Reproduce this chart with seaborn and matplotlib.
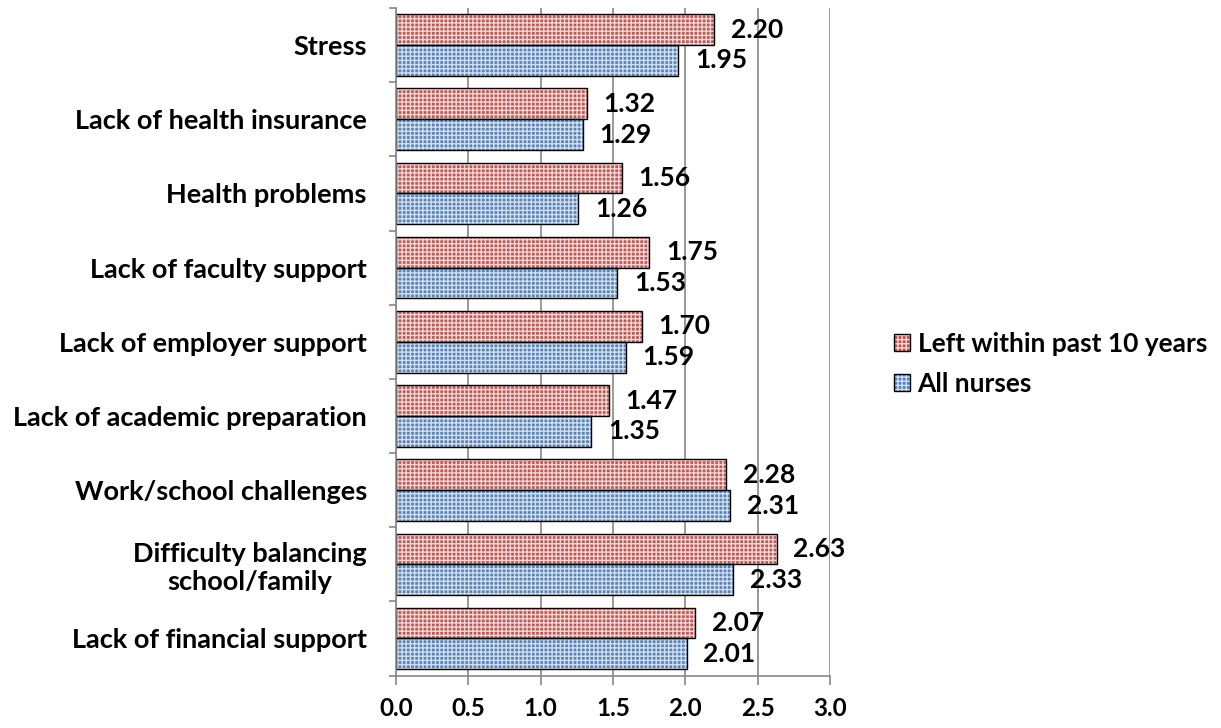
import matplotlib
matplotlib.use("Agg")
import matplotlib.pyplot as plt
import seaborn as sns
import pandas as pd
from matplotlib.patches import Patch
from matplotlib.legend_handler import HandlerTuple

categories = ["Stress", "Lack of health insurance", "Health problems",
              "Lack of faculty support", "Lack of employer support",
              "Lack of academic preparation", "Work/school challenges",
              "Difficulty balancing\nschool/family", "Lack of financial support"]
left_10 = [2.20, 1.32, 1.56, 1.75, 1.70, 1.47, 2.28, 2.63, 2.07]
all_nurses = [1.95, 1.29, 1.26, 1.53, 1.59, 1.35, 2.31, 2.33, 2.01]
series = ["Left within past 10 years", "All nurses"]
xticks = [0.0, 0.5, 1.0, 1.5, 2.0, 2.5, 3.0]

sns.set_style("white")
plt.rcParams["font.family"] = ["Lato", "DejaVu Sans"]
plt.rcParams["font.weight"] = "bold"
plt.rcParams["hatch.linewidth"] = 1.0
plt.rcParams["text.color"] = "black"
plt.rcParams["xtick.labelcolor"] = "black"
plt.rcParams["ytick.labelcolor"] = "black"

df = pd.DataFrame({
    "cat": categories * 2,
    "val": left_10 + all_nurses,
    "series": [series[0]] * len(categories) + [series[1]] * len(categories),
})

fig = plt.figure(figsize=(12.21, 7.28), dpi=100)
ax = fig.add_axes([0.3243, 0.072, 0.3555, 0.917])

red = "#C0504D"
blue = "#4F81BD"
red_light = "#F6D2D1"
blue_light = "#CFDFF3"
HATCH = "++++"
sns.barplot(data=df, y="cat", x="val", hue="series", hue_order=series,
            palette=[red, blue], orient="h", width=0.83, ax=ax,
            edgecolor="white", linewidth=0, hatch=HATCH, legend=False)
for c, lc in zip(ax.containers[:2], [red_light, blue_light]):
    for p in c:
        p.set_edgecolor(lc)
        p.set_linewidth(0)
sns.barplot(data=df, y="cat", x="val", hue="series", hue_order=series,
            palette=["black", "black"], orient="h", width=0.83, ax=ax,
            fill=False, linewidth=1.0, legend=False)

for c in ax.containers[:2]:
    ax.bar_label(c, fmt="%.2f", padding=12, fontsize=19, fontweight="bold",
                 color="black")

ax.set_xlim(0, 3.0)
ax.set_ylim(8.5, -0.5)
ax.set_xticks(xticks)
ax.set_xticklabels([f"{t:.1f}" for t in xticks], fontsize=17.5, fontweight="bold")
ax.tick_params(axis="x", length=6.5, width=1.2, color="#888888", pad=9,
               direction="out", bottom=True, labelcolor="black")
ax.set_yticks(range(len(categories)))
ax.set_yticklabels(categories, fontsize=19.5, fontweight="bold", multialignment="center")
ax.tick_params(axis="y", which="major", length=0, pad=21, labelcolor="black")
ax.set_yticks([i + 0.5 for i in range(-1, len(categories))], minor=True)
ax.tick_params(axis="y", which="minor", length=5, width=1.2, color="#888888", left=True)
ax.grid(axis="x", color="#888888", linewidth=1.2)
ax.set_axisbelow(True)
ax.set_xlabel("")
ax.set_ylabel("")
for s in ["top", "right"]:
    ax.spines[s].set_visible(False)
for s in ["left", "bottom"]:
    ax.spines[s].set_color("#888888")
    ax.spines[s].set_linewidth(1.2)

handles = [(Patch(facecolor=red, edgecolor=red_light, hatch=HATCH, linewidth=0),
            Patch(fill=False, edgecolor="black", linewidth=1.0)),
           (Patch(facecolor=blue, edgecolor=blue_light, hatch=HATCH, linewidth=0),
            Patch(fill=False, edgecolor="black", linewidth=1.0))]
leg = fig.legend(handles=handles, labels=series, loc="center left",
                 bbox_to_anchor=(0.732, 0.5), frameon=False, borderpad=0,
                 borderaxespad=0,
                 handler_map={tuple: HandlerTuple(ndivide=1, pad=0)},
                 prop={"size": 19, "weight": "bold"}, handlelength=0.6,
                 handleheight=0.6, handletextpad=0.3, labelspacing=0.6,
                 labelcolor="black")

fig.savefig("out.png", dpi=100)
